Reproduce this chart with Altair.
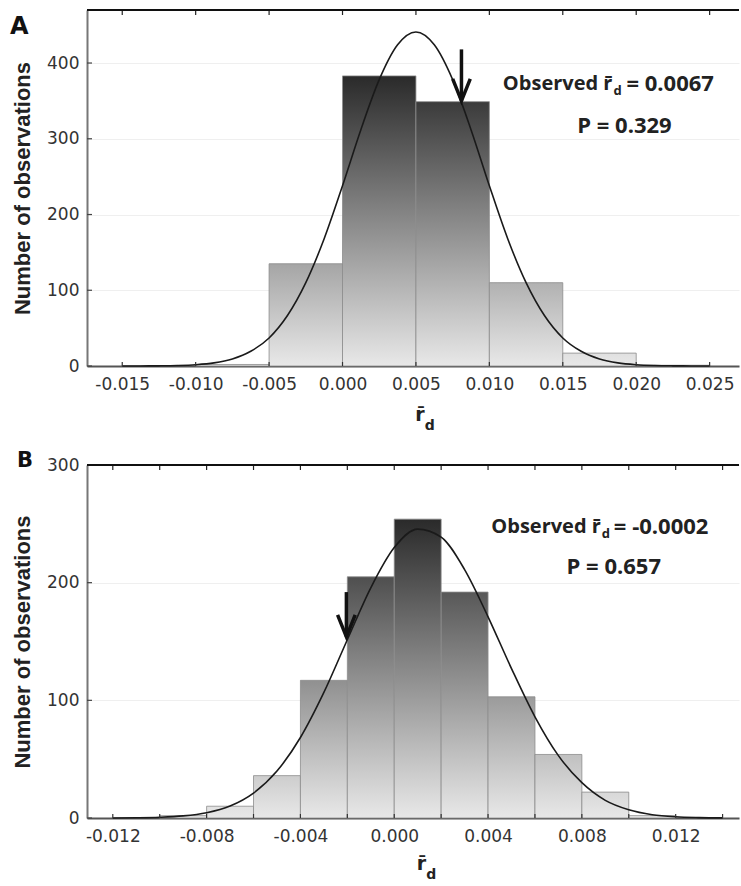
import altair as alt
import pandas as pd

# ---------------- Panel A data ----------------
A_bin_start = [-0.010, -0.005, 0.000, 0.005, 0.010, 0.015, 0.020]
A_counts = [2, 135, 383, 349, 110, 17, 1]
A_bin_width = 0.005
A_curve_x = [-0.015, -0.01375, -0.0125, -0.01125, -0.010, -0.00875, -0.0075, -0.00625,
             -0.005, -0.00375, -0.0025, -0.00125, 0.000, 0.00125, 0.0025, 0.00375, 0.005,
             0.00625, 0.0075, 0.00875, 0.010, 0.01125, 0.0125, 0.01375, 0.015, 0.01625,
             0.0175, 0.01875, 0.020, 0.02125, 0.0225, 0.02375, 0.025]
A_curve_y = [0.02, 0.07, 0.23, 0.65, 1.7, 4.1, 9.3, 19.4,
             37, 66.6, 110, 168, 238, 312, 378, 424, 441,
             424, 378, 312, 238, 168, 110, 66.6, 37, 19.4,
             9.3, 4.1, 1.7, 0.65, 0.23, 0.07, 0.02]
A_x_labels = [-0.015, -0.010, -0.005, 0.000, 0.005, 0.010, 0.015, 0.020, 0.025]
A_x_ticks = [-0.015, -0.010, -0.005, 0.000, 0.005, 0.010, 0.015, 0.020, 0.025]
A_y_ticks = [0, 100, 200, 300, 400]
A_arrow_x, A_arrow_top, A_arrow_tip = [0.0081], [418], [350]
A_obs_text = "= 0.0067"
A_p_text = "P = 0.329"

# ---------------- Panel B data ----------------
B_bin_start = [-0.010, -0.008, -0.006, -0.004, -0.002, 0.000, 0.002, 0.004, 0.006, 0.008, 0.010]
B_counts = [2, 10, 36, 117, 205, 254, 192, 103, 54, 22, 2]
B_bin_width = 0.002
B_curve_x = [-0.012, -0.011, -0.010, -0.009, -0.008, -0.007, -0.006, -0.005, -0.004,
             -0.003, -0.002, -0.001, 0.000, 0.001, 0.002, 0.003, 0.004, 0.005, 0.006,
             0.007, 0.008, 0.009, 0.010, 0.011, 0.012, 0.013, 0.014]
B_curve_y = [0.06, 0.21, 0.65, 1.8, 4.5, 10.2, 21.2, 39.9, 68.4,
             106.7, 151.5, 195.6, 229.8, 245.5, 238.7, 211.1, 171, 127, 86,
             53, 30, 15, 7, 2.8, 1.0, 0.34, 0.1]
B_x_labels = [-0.012, -0.008, -0.004, 0.000, 0.004, 0.008, 0.012]
B_x_ticks = [-0.012, -0.010, -0.008, -0.006, -0.004, -0.002, 0.000, 0.002, 0.004,
             0.006, 0.008, 0.010, 0.012, 0.014]
B_y_ticks = [0, 100, 200, 300]
B_arrow_x, B_arrow_top, B_arrow_tip = [-0.00204], [192], [154]
B_obs_text = "= -0.0002"
B_p_text = "P = 0.657"

W = 652
LABEL_EXPR = ("datum.value < -1e-9 ? '-' + format(-datum.value, '.3f') "
              ": format(datum.value, '.3f')")


def gray(h, hmax):
    light, dark = 232, 42
    v = int(round(light - (light - dark) * h / hmax))
    return "#{0:02x}{0:02x}{0:02x}".format(v)


def panel(letter, letter_pos, bin_start, counts, bw, cx, cy, xlabels, xticks, yticks,
          xdom, ydom, H, arrow, obs_text, p_text, obs_anchor, p_anchor, title_anchor,
          title_dy):
    xs = alt.Scale(domain=xdom, nice=False, zero=False)
    ys = alt.Scale(domain=ydom, nice=False)
    xax = alt.Axis(
        values=xlabels, title=None, tickSize=0, labelPadding=10,
        labelFont="DejaVu Sans", labelFontSize=17, labelColor="#333",
        domainColor="#555", domainWidth=2, grid=False, labelExpr=LABEL_EXPR,
        labelOverlap=False, labelFlush=False)
    yax = alt.Axis(
        values=yticks, title="Number of observations", titleFont="Liberation Sans",
        titleFontSize=22, titleFontWeight="bold", titleColor="#222", titlePadding=12,
        labelFont="DejaVu Sans", labelFontSize=17, labelColor="#333", labelPadding=8,
        tickSize=0, grid=True, gridColor="#efefef", domainColor="#777",
        domainWidth=2)

    def X(f):
        return alt.X(f, scale=xs, axis=xax)

    def Y(f):
        return alt.Y(f, scale=ys, axis=yax)

    bars = pd.DataFrame({"start": bin_start, "count": counts,
                         "end": [s + bw for s in bin_start],
                         "i": list(range(len(counts)))})
    hmax = max(counts)
    layers = []
    for i, h in enumerate(counts):
        grad = alt.LinearGradient(
            gradient="linear", x1=0, x2=0, y1=1, y2=0,
            stops=[alt.GradientStop(color="#e8e8e8", offset=0),
                   alt.GradientStop(color=gray(h, hmax), offset=1)])
        layers.append(
            alt.Chart(bars).transform_filter(alt.datum.i == i).mark_bar(
                fill=grad, stroke="#8c8c8c", strokeWidth=0.8).encode(
                x=X("start:Q"), x2="end:Q", y=Y("count:Q"), y2=alt.datum(0)))
    curve = pd.DataFrame({"x": cx, "y": cy})
    layers.append(alt.Chart(curve).mark_line(color="#1a1a1a", strokeWidth=1.6,
                                             interpolate="monotone").encode(
        x=X("x:Q"), y=Y("y:Q")))
    # ticks (inward)
    tx = pd.DataFrame({"t": xticks})
    ty = pd.DataFrame({"t": yticks})
    layers.append(alt.Chart(tx).mark_rule(color="#222", strokeWidth=1.2).encode(
        x=X("t:Q"), y=alt.value(0), y2=alt.value(5)))
    layers.append(alt.Chart(tx).mark_rule(color="#333", strokeWidth=1.2).encode(
        x=X("t:Q"), y=alt.value(H), y2=alt.value(H - 4)))
    layers.append(alt.Chart(ty).mark_rule(color="#444", strokeWidth=1.2).encode(
        y=Y("t:Q"), x=alt.value(0), x2=alt.value(5)))
    # top frame
    layers.append(alt.Chart(tx).mark_rule(color="#111", strokeWidth=1.5).encode(
        x=alt.value(0), x2=alt.value(W), y=alt.value(0)))
    # arrow
    ar = pd.DataFrame({"x": arrow[0], "top": arrow[1], "tip": arrow[2]})
    layers.append(alt.Chart(ar).mark_rule(color="#111", strokeWidth=3.5).encode(
        x=X("x:Q"), y=Y("top:Q"), y2="tip:Q"))
    layers.append(alt.Chart(ar).mark_point(
        shape="M-0.4,-1L0,0L0.4,-1", size=1936, filled=False, stroke="#111",
        strokeWidth=3.5, strokeJoin="miter", opacity=1).encode(
        x=X("x:Q"), y=Y("tip:Q")))
    # annotation text
    ann = pd.DataFrame({"x": [obs_anchor[0]], "y": [obs_anchor[1]],
                        "px": [p_anchor[0]], "py": [p_anchor[1]]})
    tfont = dict(font="Open Sans", fontWeight="bold", color="#222")
    layers.append(alt.Chart(ann).mark_text(text="Observed r\u0304", align="right",
                                           baseline="middle", fontSize=20, **tfont).encode(
        x=X("x:Q"), y=Y("y:Q")))
    layers.append(alt.Chart(ann).mark_text(text="d", align="left", baseline="middle",
                                           fontSize=13, dx=1, dy=7, **tfont).encode(
        x=X("x:Q"), y=Y("y:Q")))
    layers.append(alt.Chart(ann).mark_text(text=obs_text, align="left", baseline="middle",
                                           fontSize=22, dx=obs_anchor[2], **tfont).encode(
        x=X("x:Q"), y=Y("y:Q")))
    layers.append(alt.Chart(ann).mark_text(text=p_text, align="center", baseline="middle",
                                           fontSize=22, **tfont).encode(
        x=X("px:Q"), y=Y("py:Q")))
    # x-axis title  r̄ with subscript d
    tt = pd.DataFrame({"x": [title_anchor]})
    layers.append(alt.Chart(tt).mark_text(text="r\u0304", align="right",
                                          baseline="alphabetic", font="DejaVu Sans",
                                          fontWeight="bold", fontSize=19,
                                          color="#222").encode(
        x=X("x:Q"), y=alt.value(H + title_dy)))
    layers.append(alt.Chart(tt).mark_text(text="d", align="left",
                                          baseline="alphabetic", font="DejaVu Sans",
                                          fontWeight="bold", fontSize=14,
                                          color="#222").encode(
        x=X("x:Q"), y=alt.value(H + title_dy + 9)))
    # panel letter
    layers.append(alt.Chart(tt).mark_text(text=letter, align="left", baseline="alphabetic",
                                          font="DejaVu Sans", fontWeight="bold",
                                          fontSize=letter_pos[2], color="#111").encode(
        x=alt.value(letter_pos[0]), y=alt.value(letter_pos[1])))
    return alt.layer(*layers).properties(width=W, height=H)


chartA = panel("A", (-77, 24, 24), A_bin_start, A_counts, A_bin_width, A_curve_x,
               A_curve_y, A_x_labels, A_x_ticks, A_y_ticks, [-0.0174, 0.027], [0, 470],
               356, (A_arrow_x, A_arrow_top, A_arrow_tip), A_obs_text, A_p_text,
               (0.01838, 372, 14), (0.0192, 317), 0.0056, 55)
chartB = panel("B", (-70, 2, 21), B_bin_start, B_counts, B_bin_width, B_curve_x,
               B_curve_y, B_x_labels, B_x_ticks, B_y_ticks, [-0.0131, 0.0147], [0, 300],
               353, (B_arrow_x, B_arrow_top, B_arrow_tip), B_obs_text, B_p_text,
               (0.00881, 247, 13), (0.00936, 213), 0.00136, 52)

chart = alt.vconcat(chartA, chartB, spacing=17).properties(
    padding={"left": 10, "top": 9, "right": 0, "bottom": 0},
    background="white",
).configure_view(stroke=None)

chart.save("out.html", embed_options={"renderer": "svg", "actions": False})
